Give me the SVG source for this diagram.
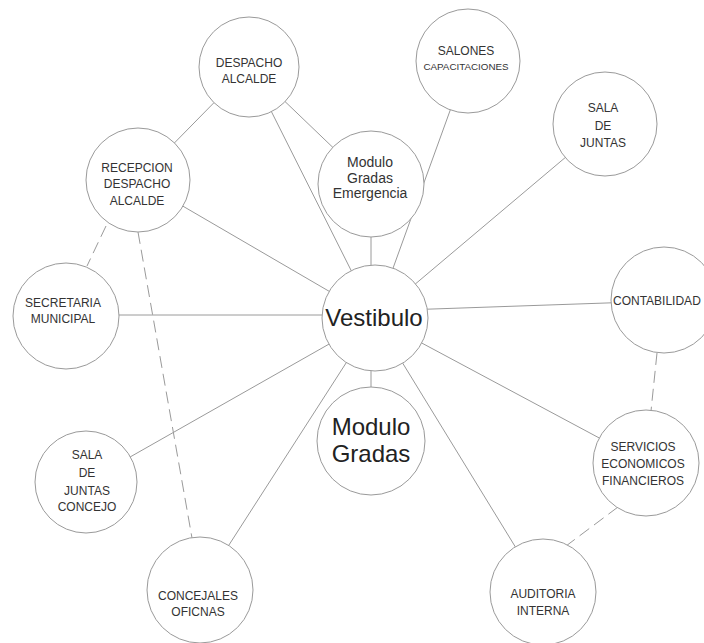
<svg xmlns="http://www.w3.org/2000/svg" width="704" height="643" viewBox="0 0 704 643">
<style>
.n{fill:#fff;stroke:#9a9a9a;stroke-width:1}
.c line{stroke:#9a9a9a;stroke-width:1;fill:none}
.c .d{stroke-dasharray:12 6}
text{font-family:"Liberation Sans",Arial,sans-serif;fill:#333;text-anchor:middle}
.s{font-size:12px}
.m{font-size:14px}
.l{font-size:24px;fill:#222}
</style>
<rect width="704" height="643" fill="#fff"/>
<g id="connectors" class="c">
<line x1="249" y1="67" x2="138" y2="180"/>
<line x1="249" y1="67" x2="371" y2="184"/>
<line x1="249" y1="67" x2="375" y2="318"/>
<line x1="468" y1="61" x2="375" y2="318"/>
<line x1="605" y1="124" x2="375" y2="318"/>
<line x1="138" y1="180" x2="375" y2="318"/>
<line x1="371" y1="236" x2="371" y2="266"/>
<line x1="66" y1="315" x2="375" y2="315"/>
<line x1="664" y1="301" x2="375" y2="311"/>
<line x1="371" y1="370" x2="371" y2="388"/>
<line x1="375" y1="318" x2="86" y2="482"/>
<line x1="375" y1="318" x2="200" y2="590"/>
<line x1="375" y1="318" x2="543" y2="592"/>
<line x1="375" y1="318" x2="646" y2="463"/>
<line class="d" x1="106" y1="226" x2="87" y2="266"/>
<line class="d" x1="138" y1="232" x2="192" y2="538"/>
<line class="d" x1="657" y1="353" x2="651" y2="411"/>
<line class="d" x1="618" y1="507" x2="566" y2="546"/>
</g>
<g id="despacho-alcalde"><circle class="n" cx="249" cy="67" r="50"/><text class="s" x="249" y="67">DESPACHO</text><text class="s" x="249" y="83">ALCALDE</text></g>
<g id="salones"><circle class="n" cx="468" cy="61" r="52"/><text class="s" x="466" y="55">SALONES</text><text x="466" y="70" style="font-size:9.8px">CAPACITACIONES</text></g>
<g id="sala-juntas"><circle class="n" cx="605" cy="124" r="52"/><text class="s" x="603" y="112">SALA</text><text class="s" x="603" y="130">DE</text><text class="s" x="603" y="147">JUNTAS</text></g>
<g id="recepcion"><circle class="n" cx="138" cy="180" r="52"/><text class="s" x="137" y="172">RECEPCION</text><text class="s" x="137" y="188">DESPACHO</text><text class="s" x="137" y="205">ALCALDE</text></g>
<g id="modulo-emergencia"><circle class="n" cx="371" cy="184" r="53"/><text class="m" x="370" y="167">Modulo</text><text class="m" x="370" y="183">Gradas</text><text class="m" x="370" y="198">Emergencia</text></g>
<g id="secretaria"><circle class="n" cx="66" cy="316" r="53"/><text class="s" x="63" y="307">SECRETARIA</text><text class="s" x="63" y="323">MUNICIPAL</text></g>
<g id="vestibulo"><circle class="n" cx="375" cy="318" r="53"/><text class="l" x="374" y="326">Vestibulo</text></g>
<g id="contabilidad"><circle class="n" cx="664" cy="300" r="53"/><text class="s" x="613" y="305" style="text-anchor:start">CONTABILIDAD</text></g>
<g id="modulo-gradas"><circle class="n" cx="371" cy="441" r="54"/><text class="l" x="371" y="435">Modulo</text><text class="l" x="371" y="462">Gradas</text></g>
<g id="sala-concejo"><circle class="n" cx="86" cy="482" r="51"/><text class="s" x="87" y="459">SALA</text><text class="s" x="87" y="477">DE</text><text class="s" x="87" y="495">JUNTAS</text><text class="s" x="87" y="511">CONCEJO</text></g>
<g id="servicios"><circle class="n" cx="646" cy="463" r="53"/><text class="s" x="643" y="451">SERVICIOS</text><text class="s" x="643" y="468">ECONOMICOS</text><text class="s" x="643" y="485">FINANCIEROS</text></g>
<g id="concejales"><circle class="n" cx="200" cy="590" r="53"/><text class="s" x="198" y="600">CONCEJALES</text><text class="s" x="198" y="616">OFICNAS</text></g>
<g id="auditoria"><circle class="n" cx="543" cy="592" r="53"/><text class="s" x="543" y="598">AUDITORIA</text><text class="s" x="543" y="615">INTERNA</text></g>
</svg>
